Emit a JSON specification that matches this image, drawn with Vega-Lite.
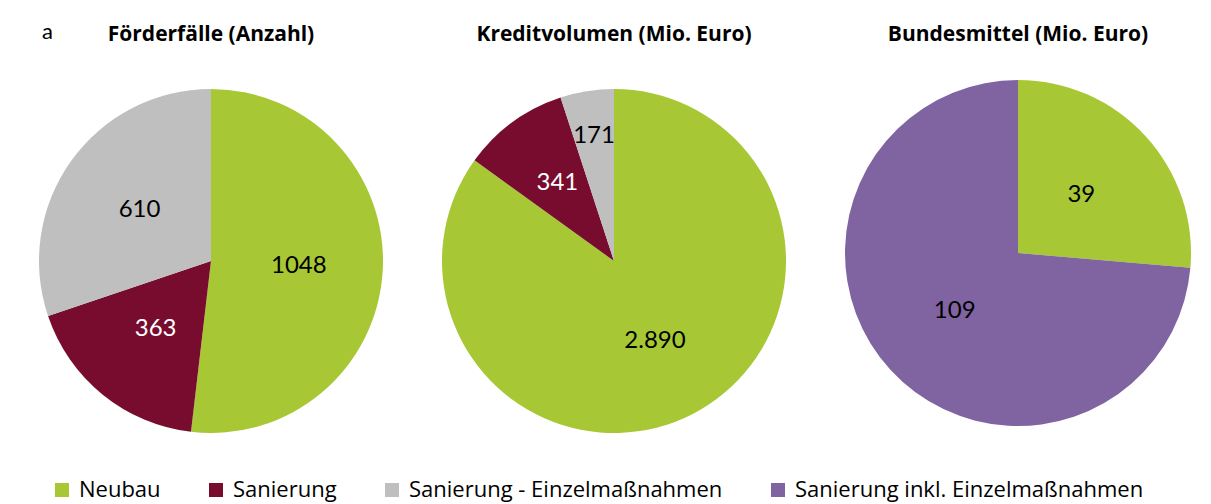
{
  "$schema": "https://vega.github.io/schema/vega-lite/v6.json",
  "background": "white",
  "padding": {"left": 39, "top": 21, "right": 0, "bottom": 0},
  "config": {
    "view": {"stroke": null},
    "font": "Lato",
    "concat": {"spacing": 59},
    "title": {"font": "Open Sans", "fontSize": 21, "fontWeight": "bold", "color": "#000000", "offset": 44},
    "legend": {
      "orient": "bottom",
      "direction": "horizontal",
      "offset": 34,
      "padding": 12,
      "symbolType": "square",
      "symbolSize": 196,
      "symbolStrokeWidth": 0,
      "labelFont": "Open Sans",
      "labelFontSize": 22,
      "labelColor": "#000000",
      "labelOffset": 6,
      "columnPadding": 44,
      "labelLimit": 500
    }
  },
  "title": {"text": "a", "anchor": "start", "fontSize": 22, "fontWeight": "normal", "offset": -20, "dx": 3, "font": "Lato", "color": "#000000"},
  "datasets": {
    "pies": [
      {"chart": "Förderfälle (Anzahl)", "kategorie": "Neubau", "reihenfolge": 1, "wert": 1048, "label": "1048"},
      {"chart": "Förderfälle (Anzahl)", "kategorie": "Sanierung", "reihenfolge": 2, "wert": 363, "label": "363"},
      {"chart": "Förderfälle (Anzahl)", "kategorie": "Sanierung - Einzelmaßnahmen", "reihenfolge": 3, "wert": 610, "label": "610"},
      {"chart": "Kreditvolumen (Mio. Euro)", "kategorie": "Neubau", "reihenfolge": 1, "wert": 2890, "label": "2.890"},
      {"chart": "Kreditvolumen (Mio. Euro)", "kategorie": "Sanierung", "reihenfolge": 2, "wert": 341, "label": "341"},
      {"chart": "Kreditvolumen (Mio. Euro)", "kategorie": "Sanierung - Einzelmaßnahmen", "reihenfolge": 3, "wert": 171, "label": "171"},
      {"chart": "Bundesmittel (Mio. Euro)", "kategorie": "Neubau", "reihenfolge": 1, "wert": 39, "label": "39"},
      {"chart": "Bundesmittel (Mio. Euro)", "kategorie": "Sanierung inkl. Einzelmaßnahmen", "reihenfolge": 2, "wert": 109, "label": "109"}
    ]
  },
  "resolve": {"scale": {"color": "shared"}},
  "hconcat": [
    {
      "title": "Förderfälle (Anzahl)",
      "width": 344,
      "height": 344,
      "data": {"name": "pies"},
      "transform": [{"filter": "datum.chart === 'Förderfälle (Anzahl)'"}],
      "encoding": {
        "theta": {"field": "wert", "type": "quantitative", "stack": true},
        "order": {"field": "reihenfolge", "type": "quantitative", "sort": "ascending"}
      },
      "layer": [
        {
          "mark": {"type": "arc", "outerRadius": 172},
          "encoding": {
            "color": {
              "field": "kategorie", "type": "nominal", "title": null,
              "scale": {
                "domain": ["Neubau", "Sanierung", "Sanierung - Einzelmaßnahmen", "Sanierung inkl. Einzelmaßnahmen"],
                "range": ["#A7C834", "#770C2E", "#BFBFBF", "#8064A2"]
              },
              "sort": null
            }
          }
        },
        {
          "mark": {"type": "text", "radius": 88, "fontSize": 24, "font": "Lato"},
          "encoding": {
            "text": {"field": "label", "type": "nominal"},
            "color": {"condition": {"test": "datum.kategorie === 'Sanierung'", "value": "#FFFFFF"}, "value": "#000000"}
          }
        }
      ]
    },
    {
      "title": "Kreditvolumen (Mio. Euro)",
      "width": 344,
      "height": 344,
      "data": {"name": "pies"},
      "transform": [{"filter": "datum.chart === 'Kreditvolumen (Mio. Euro)'"}],
      "encoding": {
        "theta": {"field": "wert", "type": "quantitative", "stack": true},
        "order": {"field": "reihenfolge", "type": "quantitative", "sort": "ascending"}
      },
      "layer": [
        {
          "mark": {"type": "arc", "outerRadius": 172},
          "encoding": {
            "color": {"field": "kategorie", "type": "nominal", "title": null, "sort": null}
          }
        },
        {
          "mark": {"type": "text", "radius": 90, "fontSize": 24, "font": "Lato"},
          "encoding": {
            "text": {"condition": {"test": "datum.kategorie === 'Neubau'", "field": "label"}, "value": ""},
            "color": {"value": "#000000"}
          }
        },
        {
          "mark": {"type": "text", "radius": 96, "fontSize": 24, "font": "Lato"},
          "encoding": {
            "text": {"condition": {"test": "datum.kategorie === 'Sanierung'", "field": "label"}, "value": ""},
            "color": {"value": "#FFFFFF"}
          }
        },
        {
          "mark": {"type": "text", "radius": 127, "fontSize": 24, "font": "Lato"},
          "encoding": {
            "text": {"condition": {"test": "datum.kategorie === 'Sanierung - Einzelmaßnahmen'", "field": "label"}, "value": ""},
            "color": {"value": "#000000"}
          }
        }
      ]
    },
    {
      "title": {"text": "Bundesmittel (Mio. Euro)", "offset": 35},
      "width": 344,
      "height": 328,
      "data": {"name": "pies"},
      "transform": [{"filter": "datum.chart === 'Bundesmittel (Mio. Euro)'"}],
      "encoding": {
        "theta": {"field": "wert", "type": "quantitative", "stack": true},
        "order": {"field": "reihenfolge", "type": "quantitative", "sort": "ascending"}
      },
      "layer": [
        {
          "mark": {"type": "arc", "outerRadius": 173},
          "encoding": {
            "color": {"field": "kategorie", "type": "nominal", "title": null, "sort": null}
          }
        },
        {
          "mark": {"type": "text", "radius": 86, "fontSize": 24, "font": "Lato"},
          "encoding": {
            "text": {"field": "label", "type": "nominal"},
            "color": {"value": "#000000"}
          }
        }
      ]
    }
  ]
}
